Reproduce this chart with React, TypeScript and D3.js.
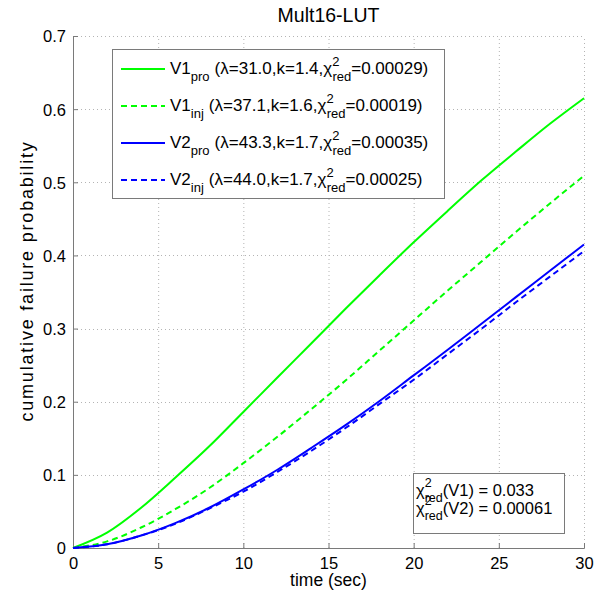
import React, { useEffect, useRef } from "react";
import * as d3 from "d3";

// time samples (sec) and curve values
const times = [0, 2, 4, 6, 8, 10, 12, 14, 16, 18, 20, 22, 24, 26, 28, 30];
const v1Pro = [0, 0.021, 0.055, 0.096, 0.139, 0.186, 0.233, 0.28, 0.327, 0.373, 0.418, 0.461, 0.503, 0.542, 0.58, 0.615];
const v1Inj = [0, 0.009, 0.028, 0.053, 0.082, 0.116, 0.152, 0.19, 0.229, 0.27, 0.311, 0.352, 0.392, 0.432, 0.471, 0.509];
const v2Pro = [0, 0.005, 0.017, 0.034, 0.055, 0.08, 0.107, 0.137, 0.168, 0.201, 0.236, 0.271, 0.307, 0.343, 0.379, 0.415];
const v2Inj = [0, 0.005, 0.017, 0.033, 0.054, 0.077, 0.104, 0.133, 0.164, 0.197, 0.23, 0.265, 0.3, 0.336, 0.371, 0.406];

const xTicks = [0, 5, 10, 15, 20, 25, 30];
const yTicks = [0, 0.1, 0.2, 0.3, 0.4, 0.5, 0.6, 0.7];

const seriesNames = ["V1", "V1", "V2", "V2"];
const seriesSubs = ["pro", "inj", "pro", "inj"];
const seriesParams = ["(λ=31.0,k=1.4,χ", "(λ=37.1,k=1.6,χ", "(λ=43.3,k=1.7,χ", "(λ=44.0,k=1.7,χ"];
const seriesChi = ["=0.00029)", "=0.00019)", "=0.00035)", "=0.00025)"];
const seriesColors = ["#00ff00", "#00ff00", "#0000ff", "#0000ff"];
const seriesDashed = [false, true, false, true];

const boxLabels = ["(V1) = 0.033", "(V2) = 0.00061"];

const W = 602;
const H = 592;
const margin = { left: 73, right: 18, top: 36, bottom: 44 };
const FONT = "'Liberation Sans', Arial, Helvetica, sans-serif";

function App() {
  const ref = useRef<SVGSVGElement | null>(null);

  useEffect(() => {
    const svg = d3.select(ref.current);
    svg.selectAll("*").remove();

    const x = d3.scaleLinear().domain([0, 30]).range([margin.left, W - margin.right]);
    const y = d3.scaleLinear().domain([0, 0.7]).range([H - margin.bottom, margin.top]);
    const [x0, x1] = x.range();
    const [y0, y1] = y.range();

    svg.append("rect").attr("width", W).attr("height", H).attr("fill", "#fff");

    // grid
    const grid = svg.append("g").attr("stroke", "#b4b4b4").attr("stroke-width", 1).attr("stroke-dasharray", "1,3");
    xTicks.slice(1, -1).forEach((t) => {
      grid.append("line").attr("x1", x(t) + 0.5).attr("x2", x(t) + 0.5).attr("y1", y0).attr("y2", y1);
    });
    yTicks.slice(1, -1).forEach((t) => {
      grid.append("line").attr("y1", Math.round(y(t)) + 0.5).attr("y2", Math.round(y(t)) + 0.5).attr("x1", x0).attr("x2", x1);
    });
    // top / right dotted (no box)
    grid.append("line").attr("x1", x0).attr("x2", x1).attr("y1", y1 + 0.5).attr("y2", y1 + 0.5);
    grid.append("line").attr("x1", x1 + 0.5).attr("x2", x1 + 0.5).attr("y1", y0).attr("y2", y1);

    // axes
    const xAxis = d3.axisBottom(x).tickValues(xTicks).tickSize(-5).tickPadding(9).tickFormat(d3.format("d"));
    const yAxis = d3.axisLeft(y).tickValues(yTicks).tickSize(-5).tickPadding(7).tickFormat((d) => (d === 0 ? "0" : d3.format(".1f")(d as number)));

    const gx = svg.append("g").attr("transform", `translate(0,${y0})`).call(xAxis);
    const gy = svg.append("g").attr("transform", `translate(${x0},0)`).call(yAxis);
    [gx, gy].forEach((g) => {
      g.select(".domain").attr("stroke", "#7a7a7a");
      g.selectAll(".tick line").attr("stroke", "#7a7a7a");
      g.selectAll(".tick text").attr("fill", "#000").style("font-family", FONT).style("font-size", "16.5px");
    });
    gy.selectAll(".tick text").attr("dy", "0.36em");

    // curves
    const allSeries = [v1Pro, v1Inj, v2Pro, v2Inj];
    const line = d3
      .line<number>()
      .x((_, i) => x(times[i]))
      .y((d) => y(d))
      .curve(d3.curveMonotoneX);

    allSeries.forEach((vals, i) => {
      svg
        .append("path")
        .datum(vals)
        .attr("fill", "none")
        .attr("stroke", seriesColors[i])
        .attr("stroke-width", 2)
        .attr("stroke-dasharray", seriesDashed[i] ? "6,4" : null)
        .attr("d", line);
    });

    // title and labels
    svg.append("text").attr("x", (x0 + x1) / 2).attr("y", 22).attr("text-anchor", "middle")
      .style("font-family", FONT).style("font-size", "19.5px").text("Mult16-LUT");
    svg.append("text").attr("x", (x0 + x1) / 2).attr("y", 586).attr("text-anchor", "middle")
      .style("font-family", FONT).style("font-size", "17.5px").text("time (sec)");
    svg.append("text").attr("transform", `translate(33,${(y0 + y1) / 2 - 11}) rotate(-90)`).attr("text-anchor", "middle")
      .style("font-family", FONT).style("font-size", "18px").style("letter-spacing", "1.8px")
      .text("cumulative failure probability");

    // legend
    const lg = svg.append("g");
    lg.append("rect").attr("x", 112.5).attr("y", 49.5).attr("width", 332).attr("height", 149)
      .attr("fill", "#fff").attr("stroke", "#7a7a7a");
    const rowY = [69, 106, 143, 180];
    seriesNames.forEach((name, i) => {
      lg.append("line").attr("x1", 121).attr("x2", 165).attr("y1", rowY[i]).attr("y2", rowY[i])
        .attr("stroke", seriesColors[i]).attr("stroke-width", 2)
        .attr("stroke-dasharray", seriesDashed[i] ? "6,4" : null);
      const t = lg.append("text").attr("x", 170).attr("y", rowY[i] + 5)
        .style("font-family", FONT).style("font-size", "17px");
      t.append("tspan").text(name);
      t.append("tspan").attr("dy", 7).style("font-size", "13px").text(seriesSubs[i]);
      t.append("tspan").attr("dy", -7).attr("dx", 5).text(seriesParams[i]);
      t.append("tspan").attr("dy", -8).style("font-size", "13px").text("2");
      t.append("tspan").attr("dy", 15).attr("dx", -7).style("font-size", "13px").text("red");
      t.append("tspan").attr("dy", -7).text(seriesChi[i]);
    });

    // chi-square text box
    const tb = svg.append("g");
    tb.append("rect").attr("x", 413.5).attr("y", 473.5).attr("width", 151).attr("height", 60)
      .attr("fill", "#fff").attr("stroke", "#7a7a7a");
    boxLabels.forEach((lab, i) => {
      const t = tb.append("text").attr("x", 416).attr("y", 496 + i * 18)
        .style("font-family", FONT).style("font-size", "16.5px");
      t.append("tspan").text("χ");
      t.append("tspan").attr("dy", -9).style("font-size", "12.5px").text("2");
      t.append("tspan").attr("dy", 15).attr("dx", -7).style("font-size", "12.5px").text("red");
      t.append("tspan").attr("dy", -6).text(lab);
    });
  }, []);

  return <svg ref={ref} width={W} height={H} style={{ position: "absolute", left: 0, top: 0 }} />;
}

export default App;
